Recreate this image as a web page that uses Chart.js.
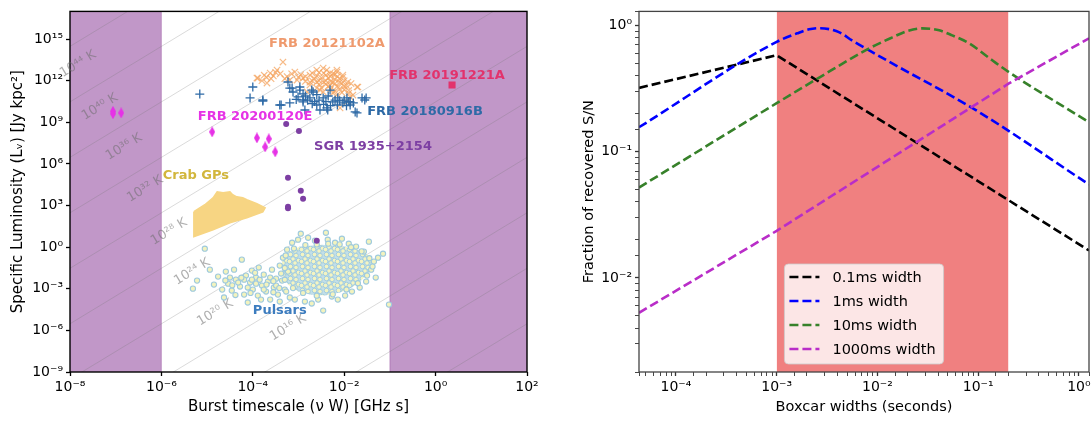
<!DOCTYPE html>
<html>
<head>
<meta charset="utf-8">
<script src="https://cdn.jsdelivr.net/npm/chart.js@4.4.1/dist/chart.umd.min.js"></script>
<style>
  html, body { margin: 0; padding: 0; background: #fff; }
  #wrap { position: relative; width: 1092px; height: 421px; }
  #left { position: absolute; left: 0; top: 0; }
  #right { position: absolute; left: 560px; top: 0; }
</style>
</head>
<body>
<div id="wrap">
  <canvas id="left" width="546" height="421"></canvas>
  <canvas id="right" width="532" height="421"></canvas>
</div>
<script>
// ---------------- left panel: burst phase space ----------------
// pairs are [log10(nu W / GHz s), log10(L / Jy kpc^2)]
var frb20121102A = [
  [-3.34,13.35],[-3.89,12.19],[-3.62,12.55],[-3.47,12.77],[-3.69,11.83],[-3.08,12.63],[-3.19,12.05],
  [-2.90,12.19],[-2.75,12.41],[-2.60,12.77],[-2.46,12.91],[-2.31,12.55],[-2.16,12.77],[-2.03,12.41],
  [-1.92,11.91],[-1.70,11.55],[-1.81,10.97],[-1.94,10.47],[-2.09,10.04],[-2.60,11.47],[-2.46,11.19],
  [-2.31,11.69],[-2.16,10.97],[-2.81,11.19],[-2.75,11.69],[-3.91,12.19],[-3.03,12.05],[-2.38,12.77],
  [-2.16,12.63],[-2.03,12.27],[-1.72,11.55],[-1.87,10.83],[-2.25,11.12],[-2.53,11.33],[-2.50,12.20],
  [-2.40,12.00],[-2.30,12.30],[-2.20,12.10],[-2.10,11.90],[-2.00,12.00],[-2.20,11.80],[-2.35,11.60],
  [-2.45,11.90],[-2.55,12.00],[-2.65,12.15],[-2.00,11.60],[-1.90,11.30],[-2.10,11.40],[-2.25,12.50],
  [-2.40,12.40],[-2.60,11.90],[-2.70,12.00],[-1.85,11.80],[-2.05,11.15],[-2.30,11.95],[-2.15,12.30],
  [-3.75,12.40],[-3.55,12.35],[-3.40,12.50],[-3.25,12.30],[-3.60,12.15],[-3.80,12.00],[-2.95,12.45],
  [-2.85,11.95],[-2.70,12.55],[-2.55,12.60],[-2.45,12.55],[-2.35,12.20],[-2.25,11.85],[-2.15,11.60],
  [-2.05,11.80],[-1.95,11.65],[-2.40,11.75],[-2.50,11.50],[-2.60,12.35],[-2.20,12.45],[-2.10,12.15],
  [-2.30,11.40],[-2.00,11.35],[-1.90,11.10],[-2.20,11.25],[-2.55,11.75],[-2.75,11.90],[-2.85,12.30],
  [-3.00,12.25],[-3.15,12.50],[-3.50,12.60],[-3.70,12.25],[-3.30,12.15]
];
var frb20180916B = [
  [-5.16,11.04],[-4.00,11.55],[-4.06,10.76],[-3.78,10.54],[-3.41,10.25],[-3.23,11.91],[-3.19,11.47],
  [-3.12,11.19],[-2.97,11.55],[-3.01,10.83],[-2.90,10.47],[-2.75,10.76],[-2.68,11.19],[-2.60,10.25],
  [-2.46,10.76],[-2.31,11.33],[-2.25,10.47],[-2.14,10.76],[-2.03,10.40],[-1.94,10.76],[-1.87,10.25],
  [-1.76,9.75],[-1.61,10.76],[-1.52,10.76],[-2.86,9.89],[-2.53,9.89],[-2.38,10.04],[-3.19,10.40],
  [-3.78,10.61],[-3.38,10.25],[-3.14,11.47],[-2.97,11.33],[-2.71,11.33],[-2.90,10.61],[-2.36,9.89],
  [-1.87,10.47],[-1.55,10.61],[-1.72,9.68],[-2.80,10.60],[-2.65,10.50],[-2.55,10.60],[-2.40,10.50],
  [-2.20,10.60],[-2.10,10.55],[-2.00,10.60],[-1.90,10.50],[-1.80,10.40],[-2.70,10.35],[-2.45,10.30],
  [-2.30,10.20],[-2.15,10.25],[-1.95,10.20],[-2.85,10.90],[-2.60,11.00],[-2.35,10.90],[-2.90,11.05],
  [-3.05,10.65]
];
var frb20200120E = [[-7.06,9.80],[-7.06,9.62],[-6.88,9.68],[-4.89,8.31],[-3.91,7.88],[-3.65,7.81],[-3.73,7.23],[-3.51,6.87]];
var sgr1935 = [[-3.27,8.88],[-2.99,8.38],[-3.23,5.00],[-2.95,4.06],[-2.90,3.49],[-3.23,2.91],[-3.23,2.80],[-2.60,0.47]];
var frb20191221A = [[0.36,11.69]];
// outline of the dense Crab giant pulse blob
var crabOutline = [
  [-5.29,2.56],[-5.05,3.06],[-4.87,3.56],[-4.78,3.99],[-4.65,3.92],[-4.50,3.99],[-4.44,3.78],[-4.35,3.63],
  [-4.22,3.56],[-4.13,3.42],[-3.91,3.13],[-3.73,2.84],[-3.78,2.55],[-4.13,2.12],[-4.50,1.76],[-4.87,1.26],
  [-5.29,0.76],[-5.29,2.56]
];
// outline of the crowded pulsar core, plus the pulsars that stand apart
var pulsarCore = [
  [-3.36,-1.04],[-3.19,-0.32],[-2.97,0.04],[-2.75,0.11],[-2.49,0.18],[-2.20,0.11],[-1.98,0.04],[-1.70,-0.18],
  [-1.48,-0.54],[-1.39,-1.04],[-1.44,-1.76],[-1.61,-2.34],[-1.83,-2.91],[-2.09,-3.27],[-2.42,-3.49],
  [-2.75,-3.42],[-3.01,-3.20],[-3.23,-2.70],[-3.36,-1.98],[-3.36,-1.04]
];
var pulsars = [
  [-5.31,-2.99],[-5.22,-2.41],[-5.05,-0.11],[-4.94,-1.62],[-4.76,-2.12],[-4.63,-3.63],[-4.54,-2.63],
  [-4.46,-3.13],[-4.37,-2.34],[-4.28,-2.84],[-4.24,-0.90],[-4.19,-3.42],[-4.11,-3.99],[-4.06,-2.55],
  [-4.00,-3.06],[-3.93,-2.19],[-3.89,-3.49],[-3.80,-2.77],[-3.76,-1.98],[-3.71,-3.20],[-3.67,-2.48],
  [-3.62,-3.78],[-3.58,-1.62],[-3.54,-2.91],[-3.49,-2.27],[-3.45,-3.42],[-3.41,-3.92],[-3.41,-1.33],
  [-3.34,-0.76],[-3.30,-3.06],[-3.25,-0.18],[-3.19,-3.63],[-3.14,0.32],[-3.08,-3.78],[-3.01,0.54],
  [-2.95,0.97],[-2.86,-3.92],[-2.79,0.68],[-2.71,-4.06],[-2.64,0.47],[-2.57,-3.78],[-2.46,-4.57],
  [-2.40,1.04],[-2.36,0.54],[-2.27,-3.56],[-2.20,0.32],[-2.14,-3.78],[-2.05,0.61],[-1.98,-3.49],
  [-1.90,0.25],[-1.83,-3.20],[-1.74,0.04],[-1.66,-2.91],[-1.57,-0.32],[-1.52,-2.48],[-1.46,0.40],
  [-1.41,-1.62],[-1.35,-1.04],[-1.31,-2.19],[-1.26,-0.76],[-1.15,-0.47],[-1.02,-4.14],[-4.67,-3.06],
  [-4.59,-1.76],[-4.85,-2.70],[-4.41,-1.62],[-4.15,-2.05],[-3.87,-1.47],[-3.82,-3.78],[-4.02,-1.69],
  [-4.50,-2.19],[-4.32,-2.55],[-4.11,-2.91],[-3.93,-2.63],[-3.76,-3.06],[-3.62,-2.19],[-3.49,-2.77],
  [-3.36,-2.41],[-3.27,-3.20],[-3.23,-1.76],[-4.19,-2.34],[-4.02,-2.34],
  [-4.45,-2.75],[-4.25,-2.20],[-4.05,-3.30],[-3.85,-2.35],[-3.70,-2.70],[-3.55,-3.25],[-3.55,-2.45],
  [-3.42,-2.95],[-3.38,-1.90],[-4.60,-2.40],[-4.38,-3.45],[-3.95,-1.85],
  [-3.30,-1.50],[-3.28,-0.60],[-3.10,-0.10],[-2.85,0.15],[-2.60,0.20],[-2.35,0.25],[-2.10,0.20],
  [-1.85,0.00],[-1.62,-0.30],[-1.45,-0.80],[-1.38,-1.40],[-1.50,-2.05],[-1.70,-2.60],[-1.95,-3.05],
  [-2.25,-3.40],[-2.60,-3.50],[-2.90,-3.30],[-3.12,-2.95],[-3.30,-2.35]
];

// shaded (excluded) nu W ranges
var shadedRanges = [[1e-8, 1e-6], [1e-1, 1e2]];

// brightness temperature lines: L at nu W = 1e-8 and at nu W = 1e2
var tLineStartL = [3e14, 3e10, 3e6, 3e2, 3e-2, 3e-6, 3e-10, 3e-14, 3e-18, 3e-22, 3e-26];
var tLineEndL   = [3e34, 3e30, 3e26, 3e22, 3e18, 3e14, 3e10, 3e6, 3e2, 3e-2, 3e-6];
var tLabels  = ['10⁴⁴ K', '10⁴⁰ K', '10³⁶ K', '10³² K', '10²⁸ K', '10²⁴ K', '10²⁰ K', '10¹⁶ K'];
var tLabelW  = [1.5e-8, 4.5e-8, 1.52e-7, 4.4e-7, 1.47e-6, 4.7e-6, 1.5e-5, 5.9e-4];
var tLabelL  = [1.6e13, 1.3e10, 1.7e7, 1.6e4, 13, 1.7e-2, 1.9e-5, 1.6e-6];

var groupNames  = ['FRB 20121102A', 'FRB 20191221A', 'FRB 20180916B', 'FRB 20200120E', 'SGR 1935+2154', 'Crab GPs', 'Pulsars'];
var groupLabelW = [4.2e-3, 1.78, 0.586, 1.12e-4, 0.0427, 5.7e-6, 3.9e-4];
var groupLabelL = [5e14, 2.2e12, 5.6e9, 2.5e9, 1.7e7, 1.4e5, 2.7e-5];
var groupColors = ['#ef9a6e', '#e2336c', '#2e6aa6', '#e632e6', '#7d3fa3', '#d2b63c', '#3d7dbf'];

var xTicksLeft = [1e-8, 1e-6, 1e-4, 1e-2, 1, 1e2];
var yTicksLeft = [1e-9, 1e-6, 1e-3, 1, 1e3, 1e6, 1e9, 1e12, 1e15];

// ---------------- right panel: boxcar S/N recovery ----------------
var curveLabels = ['0.1ms width', '1ms width', '10ms width', '1000ms width'];
var boxcar01 = [4.3e-5, 1e-3, 1.26];
var frac01   = [0.32, 0.58, 0.0165];
var boxcar1  = [4.3e-5, 1e-3, 1.6e-3, 2.1e-3, 2.7e-3, 4.2e-3, 5.6e-3, 8.3e-3, 1.23e-2, 0.095, 1.26];
var frac1    = [0.156, 0.74, 0.865, 0.93, 0.95, 0.88, 0.76, 0.634, 0.53, 0.213, 0.055];
var boxcar10 = [4.3e-5, 1e-3, 2.67e-3, 8.3e-3, 0.0141, 0.0194, 0.0279, 0.0411, 0.0553, 0.0815, 0.138, 0.203, 1.26];
var frac10   = [0.052, 0.242, 0.388, 0.658, 0.804, 0.897, 0.947, 0.913, 0.833, 0.721, 0.529, 0.425, 0.171];
var boxcar1000 = [4.3e-5, 1e-3, 0.2, 1.26];
var frac1000   = [0.0053, 0.0236, 0.345, 0.79];
var searchedRange = [1e-3, 0.2];
var xTicksRight = [1e-4, 1e-3, 1e-2, 1e-1, 1];
var yTicksRight = [1e-2, 1e-1, 1];

// ---------------- helpers ----------------
Chart.defaults.font.family = '"DejaVu Sans", sans-serif';
Chart.defaults.color = '#000';

var SUP = {'-': '⁻', '0': '⁰', '1': '¹', '2': '²', '3': '³', '4': '⁴', '5': '⁵', '6': '⁶', '7': '⁷', '8': '⁸', '9': '⁹'};
function pow10Label(v) {
  var e = Math.round(Math.log10(v));
  return '10' + String(e).split('').map(function (c) { return SUP[c]; }).join('');
}
function inList(v, list) {
  return list.some(function (t) { return Math.abs(Math.log10(v / t)) < 1e-6; });
}
function fromLog(arr) {
  return arr.map(function (p) { return {x: Math.pow(10, p[0]), y: Math.pow(10, p[1])}; });
}
function zip(xs, ys) {
  return xs.map(function (x, i) { return {x: x, y: ys[i]}; });
}
function diamond(w, h, color) {
  var c = document.createElement('canvas');
  c.width = w; c.height = h;
  var g = c.getContext('2d');
  g.fillStyle = color;
  g.beginPath(); g.moveTo(w / 2, 0); g.lineTo(w, h / 2); g.lineTo(w / 2, h); g.lineTo(0, h / 2); g.closePath();
  g.fill();
  return c;
}
// texture for the crowded pulsar core: overlapping blue rings with pale yellow centres
function ringPattern() {
  var c = document.createElement('canvas');
  c.width = 12; c.height = 12;
  var g = c.getContext('2d');
  g.fillStyle = '#c2dfe9'; g.fillRect(0, 0, 12, 12);
  var spots = [[2.5, 2.5], [8, 3.5], [5, 7], [10.5, 8.5], [1.5, 9.5], [7, 11]];
  spots.forEach(function (s) {
    [-12, 0, 12].forEach(function (dx) {
      [-12, 0, 12].forEach(function (dy) {
        g.beginPath(); g.arc(s[0] + dx, s[1] + dy, 2.3, 0, Math.PI * 2);
        g.fillStyle = '#f4f4c2'; g.fill();
        g.strokeStyle = '#a3cde0'; g.lineWidth = 1; g.stroke();
      });
    });
  });
  return g.createPattern(c, 'repeat');
}

var framePlugin = {
  id: 'frame',
  afterDatasetsDraw: function (chart, args, opts) {
    var ctx = chart.ctx, a = chart.chartArea;
    ctx.save();
    ctx.strokeStyle = opts.color;
    ctx.lineWidth = opts.width;
    ctx.strokeRect(a.left, a.top, a.right - a.left, a.bottom - a.top);
    ctx.restore();
  }
};

var leftTextPlugin = {
  id: 'leftText',
  afterDatasetsDraw: function (chart) {
    var ctx = chart.ctx, x = chart.scales.x, y = chart.scales.y;
    var ang = Math.atan2(y.getPixelForValue(100) - y.getPixelForValue(1), x.getPixelForValue(10) - x.getPixelForValue(1));
    ctx.save();
    ctx.textAlign = 'center';
    ctx.textBaseline = 'middle';
    ctx.font = '13px "DejaVu Sans"';
    ctx.fillStyle = 'rgba(110,110,110,0.55)';
    tLabels.forEach(function (t, i) {
      ctx.save();
      ctx.translate(x.getPixelForValue(tLabelW[i]), y.getPixelForValue(tLabelL[i]));
      ctx.rotate(ang);
      ctx.fillText(t, 0, 0);
      ctx.restore();
    });
    ctx.font = 'bold 13px "DejaVu Sans"';
    groupNames.forEach(function (n, i) {
      ctx.fillStyle = groupColors[i];
      ctx.fillText(n, x.getPixelForValue(groupLabelW[i]), y.getPixelForValue(groupLabelL[i]));
    });
    ctx.restore();
  }
};

var legendPlugin = {
  id: 'boxLegend',
  afterDatasetsDraw: function (chart) {
    var ctx = chart.ctx, a = chart.chartArea;
    var items = chart.data.datasets.filter(function (d) { return d.inLegend; });
    ctx.save();
    ctx.font = '14.5px "DejaVu Sans"';
    var tw = Math.max.apply(null, items.map(function (d) { return ctx.measureText(d.label).width; }));
    var rowH = 24;
    var w = 48 + tw + 8, h = rowH * (items.length - 1) + 28;
    var bx = (a.left + a.right) / 2 - w / 2, by = a.bottom - 8 - h;
    ctx.beginPath();
    ctx.roundRect(bx, by, w, h, 4);
    ctx.fillStyle = 'rgba(255,255,255,0.8)';
    ctx.fill();
    ctx.strokeStyle = 'rgba(204,204,204,0.8)';
    ctx.lineWidth = 1;
    ctx.stroke();
    items.forEach(function (d, i) {
      var cy = by + 13 + i * rowH;
      ctx.setLineDash(d.borderDash);
      ctx.strokeStyle = d.borderColor;
      ctx.lineWidth = d.borderWidth;
      ctx.beginPath(); ctx.moveTo(bx + 5, cy); ctx.lineTo(bx + 35, cy); ctx.stroke();
      ctx.setLineDash([]);
      ctx.fillStyle = '#000';
      ctx.textBaseline = 'middle';
      ctx.fillText(d.label, bx + 48, cy + 1);
    });
    ctx.restore();
  }
};

// ---------------- left chart ----------------
var leftSets = [];
shadedRanges.forEach(function (r) {
  leftSets.push({type: 'line', data: [{x: r[0], y: 1e17}, {x: r[1], y: 1e17}], fill: 'start',
    backgroundColor: 'rgb(193,151,200)', borderColor: 'rgba(0,0,0,0)', pointRadius: 0, order: 30});
  r.forEach(function (edge) {
    if (edge > 1e-8 && edge < 1e2) {
      leftSets.push({type: 'line', data: [{x: edge, y: 1e-9}, {x: edge, y: 1e17}],
        borderColor: 'rgba(150,80,160,0.5)', borderWidth: 1, pointRadius: 0, order: 29});
    }
  });
});
tLineStartL.forEach(function (l0, i) {
  leftSets.push({type: 'line', data: [{x: 1e-8, y: l0}, {x: 1e2, y: tLineEndL[i]}],
    borderColor: 'rgba(120,120,120,0.35)', borderWidth: 0.8, pointRadius: 0, order: 28});
});
leftSets.push({type: 'line', data: fromLog(crabOutline), fill: 'shape', backgroundColor: '#f7d583',
  borderColor: '#f7d583', borderWidth: 1.5, pointRadius: 0, order: 20});
leftSets.push({type: 'line', data: fromLog(pulsarCore), fill: 'shape', backgroundColor: ringPattern(),
  borderColor: 'rgba(0,0,0,0)', pointRadius: 0, order: 19});
leftSets.push({data: fromLog(pulsars), pointStyle: 'circle', pointRadius: 2.6, borderWidth: 1.1,
  backgroundColor: '#f3f3bd', borderColor: '#9fcade', order: 18});
leftSets.push({data: fromLog(frb20121102A), pointStyle: 'crossRot', pointRadius: 4.5, borderWidth: 1.2,
  borderColor: 'rgba(244,164,96,0.75)', order: 12});
leftSets.push({data: fromLog(frb20180916B), pointStyle: 'cross', pointRadius: 4.5, borderWidth: 1.3,
  borderColor: '#2e6aa6', order: 11});
leftSets.push({data: fromLog(sgr1935), pointStyle: 'circle', pointRadius: 3, borderWidth: 0,
  backgroundColor: '#7d3fa3', borderColor: '#7d3fa3', order: 10});
leftSets.push({data: fromLog(frb20200120E), pointStyle: diamond(6, 11, '#e632e6'), order: 9});
leftSets.push({data: fromLog(frb20191221A), pointStyle: 'rect', pointRadius: 5, borderWidth: 0,
  backgroundColor: '#e2336c', borderColor: '#e2336c', order: 8});

new Chart(document.getElementById('left'), {
  type: 'scatter',
  data: {datasets: leftSets},
  options: {
    responsive: false,
    animation: false,
    events: [],
    layout: {padding: {left: 0, top: 11, right: 19, bottom: 0}},
    plugins: {legend: {display: false}, tooltip: {enabled: false}, frame: {color: '#000', width: 1.4}},
    scales: {
      x: {
        type: 'logarithmic', min: 1e-8, max: 1e2,
        afterBuildTicks: function (s) { s.ticks = xTicksLeft.map(function (v) { return {value: v}; }); },
        afterFit: function (s) { s.height = 49; },
        ticks: {callback: function (v) { return pow10Label(v); }, font: {size: 14}, color: '#000', autoSkip: false, maxRotation: 0, padding: 3},
        grid: {drawOnChartArea: false, drawTicks: true, tickLength: 4, tickWidth: 1.3, tickColor: '#000'},
        border: {display: false},
        title: {display: true, text: 'Burst timescale (ν W) [GHz s]', font: {size: 15}, color: '#000', padding: {top: 0, bottom: 5}}
      },
      y: {
        type: 'logarithmic', min: 1e-9, max: 1e17,
        afterBuildTicks: function (s) { s.ticks = yTicksLeft.map(function (v) { return {value: v}; }); },
        afterFit: function (s) { s.width = 70; },
        ticks: {callback: function (v) { return pow10Label(v); }, font: {size: 14}, color: '#000', autoSkip: false, padding: 3},
        grid: {drawOnChartArea: false, drawTicks: true, tickLength: 4, tickWidth: 1.3, tickColor: '#000'},
        border: {display: false},
        title: {display: true, text: 'Specific Luminosity (Lᵥ) [Jy kpc²]', font: {size: 15}, color: '#000', padding: {top: 9, bottom: 0}}
      }
    }
  },
  plugins: [framePlugin, leftTextPlugin]
});

// ---------------- right chart ----------------
var dash = [9, 4];
var rightSets = [
  {type: 'line', data: [{x: searchedRange[0], y: 1.29}, {x: searchedRange[1], y: 1.29}], fill: 'start',
    backgroundColor: '#f08080', borderColor: 'rgba(0,0,0,0)', pointRadius: 0, order: 30},
  {type: 'line', label: curveLabels[0], inLegend: true, data: zip(boxcar01, frac01), borderColor: '#000000',
    borderWidth: 2.6, borderDash: dash, pointRadius: 0, tension: 0, order: 4},
  {type: 'line', label: curveLabels[1], inLegend: true, data: zip(boxcar1, frac1), borderColor: '#0000ff',
    borderWidth: 2.6, borderDash: dash, pointRadius: 0, cubicInterpolationMode: 'monotone', order: 3},
  {type: 'line', label: curveLabels[2], inLegend: true, data: zip(boxcar10, frac10), borderColor: '#37812a',
    borderWidth: 2.6, borderDash: dash, pointRadius: 0, cubicInterpolationMode: 'monotone', order: 2},
  {type: 'line', label: curveLabels[3], inLegend: true, data: zip(boxcar1000, frac1000), borderColor: 'rgb(185,45,200)',
    borderWidth: 2.6, borderDash: dash, pointRadius: 0, tension: 0, order: 1}
];

function tickW(list) {
  return function (c) { return c.tick && inList(c.tick.value, list) ? 1.3 : 0.9; };
}

new Chart(document.getElementById('right'), {
  type: 'scatter',
  data: {datasets: rightSets},
  options: {
    responsive: false,
    animation: false,
    events: [],
    layout: {padding: {left: 0, top: 11, right: 3, bottom: 0}},
    plugins: {legend: {display: false}, tooltip: {enabled: false}, frame: {color: '#444', width: 1.3}},
    scales: {
      x: {
        type: 'logarithmic', min: 4.3e-5, max: 1.26,
        afterFit: function (s) { s.height = 49; },
        ticks: {callback: function (v) { return inList(v, xTicksRight) ? pow10Label(v) : ''; }, font: {size: 14}, color: '#000', autoSkip: false, maxRotation: 0, padding: 3},
        grid: {drawOnChartArea: false, drawTicks: true, tickLength: 4, tickWidth: tickW(xTicksRight), tickColor: '#333'},
        border: {display: false},
        title: {display: true, text: 'Boxcar widths (seconds)', font: {size: 14.5}, color: '#000', padding: {top: 0, bottom: 5}}
      },
      y: {
        type: 'logarithmic', min: 1.8e-3, max: 1.29,
        afterFit: function (s) { s.width = 79; },
        ticks: {callback: function (v) { return inList(v, yTicksRight) ? pow10Label(v) : ''; }, font: {size: 14}, color: '#000', autoSkip: false, padding: 3},
        grid: {drawOnChartArea: false, drawTicks: true, tickLength: 4, tickWidth: tickW(yTicksRight), tickColor: '#333'},
        border: {display: false},
        title: {display: true, text: 'Fraction of recovered S/N', font: {size: 14.5}, color: '#000', padding: {top: 21, bottom: 0}}
      }
    }
  },
  plugins: [framePlugin, legendPlugin]
});
</script>
</body>
</html>
